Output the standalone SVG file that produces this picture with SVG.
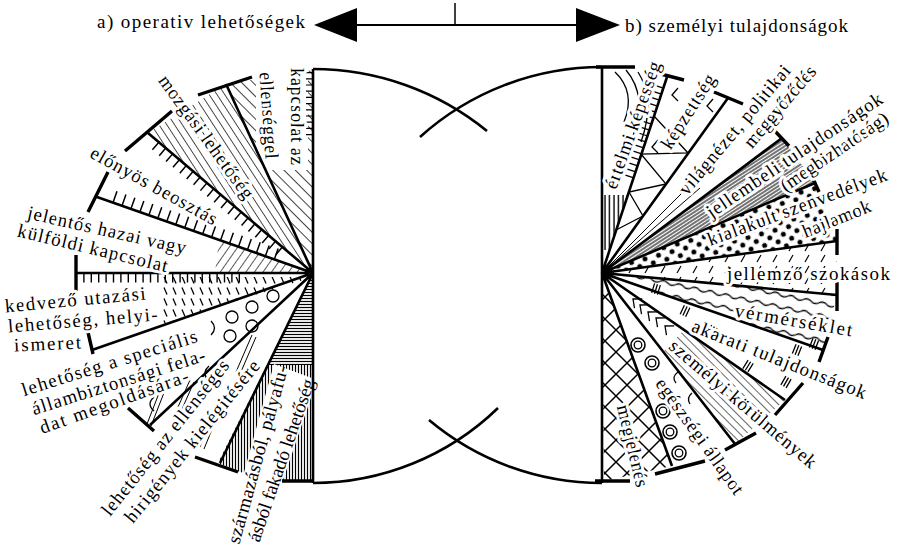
<svg xmlns="http://www.w3.org/2000/svg" xmlns:xlink="http://www.w3.org/1999/xlink" width="897" height="547" viewBox="0 0 897 547">
<style>
.t{font-family:"Liberation Serif","DejaVu Serif",serif;font-size:19px;fill:#000;dominant-baseline:central}
.w{stroke:#fff;stroke-width:6;paint-order:stroke;stroke-linejoin:round}
.hd{font-family:"Liberation Serif","DejaVu Serif",serif;font-size:19px;fill:#000}
.ln{stroke:#000;stroke-width:2.6;fill:none}
.bar{stroke:#000;stroke-width:3.4;fill:none}
.th{stroke:#000;stroke-width:1.3;fill:none}
.tk{fill:none;stroke:#000}
</style>
<defs>
<pattern id="pL1" width="8" height="8" patternUnits="userSpaceOnUse" patternTransform="rotate(-45)"><line x1="0" y1="0" x2="0" y2="8" stroke="#000" stroke-width="1.5"/></pattern>
<pattern id="pL2" width="6.5" height="8" patternUnits="userSpaceOnUse" patternTransform="rotate(-33)"><line x1="0" y1="0" x2="0" y2="8" stroke="#000" stroke-width="1.4"/></pattern>
<pattern id="pL4" width="7" height="8" patternUnits="userSpaceOnUse" patternTransform="rotate(35)"><line x1="0" y1="0" x2="0" y2="8" stroke="#000" stroke-width="1.3"/></pattern>
<pattern id="pDash" width="9" height="11" patternUnits="userSpaceOnUse"><line x1="2" y1="1.5" x2="5" y2="8.5" stroke="#000" stroke-width="1.3"/></pattern>
<pattern id="pH" width="6" height="3" patternUnits="userSpaceOnUse"><line x1="0" y1="1.5" x2="6" y2="1.5" stroke="#000" stroke-width="1.2"/></pattern>
<pattern id="pV" width="3" height="6" patternUnits="userSpaceOnUse"><line x1="1.5" y1="0" x2="1.5" y2="6" stroke="#000" stroke-width="1.2"/></pattern>
<pattern id="pV5" width="4.5" height="6" patternUnits="userSpaceOnUse"><line x1="2" y1="0" x2="2" y2="6" stroke="#000" stroke-width="1.4"/></pattern>
<pattern id="pR4" width="3" height="8" patternUnits="userSpaceOnUse" patternTransform="rotate(57)"><line x1="1" y1="0" x2="1" y2="8" stroke="#000" stroke-width="1.1"/></pattern>
<pattern id="pDots" width="14" height="12" patternUnits="userSpaceOnUse" patternTransform="rotate(-15)"><circle cx="3" cy="3" r="2.5" fill="#000"/><circle cx="10" cy="9" r="2.5" fill="#000"/></pattern>
<pattern id="pDashR" width="16" height="11" patternUnits="userSpaceOnUse"><line x1="5" y1="9" x2="9" y2="2" stroke="#000" stroke-width="1.2"/></pattern>
<pattern id="pWave" width="16" height="12" patternUnits="userSpaceOnUse" patternTransform="rotate(12)"><path d="M0,6 Q4,3 8,6 T16,6" stroke="#000" stroke-width="1.3" fill="none"/></pattern>
<pattern id="pR9" width="6" height="8" patternUnits="userSpaceOnUse" patternTransform="rotate(-45)"><line x1="0" y1="0" x2="0" y2="8" stroke="#000" stroke-width="1.2"/></pattern>
<pattern id="pLat" width="22" height="22" patternUnits="userSpaceOnUse"><path d="M0,0 L22,22 M22,0 L0,22" stroke="#000" stroke-width="1.5" fill="none"/></pattern>
<g id="tk3"><path d="M-3,-5 V5 M0,-5 V5 M3,-5 V5" stroke="#000" stroke-width="1.3" fill="none"/></g>
<polyline id="chev" points="7,-6 0,0 7,6" stroke="#000" stroke-width="1.3" fill="none"/>
<g id="dc"><circle r="7" fill="none" stroke="#000" stroke-width="1.6"/><circle r="3.8" fill="none" stroke="#000" stroke-width="1.3"/></g>
</defs>
<rect width="897" height="547" fill="#fff"/>

<g id="header">
<text class="hd" x="97" y="28" textLength="208" lengthAdjust="spacing">a) operativ lehetőségek</text>
<text class="hd" x="625" y="32" textLength="223" lengthAdjust="spacing">b) személyi tulajdonságok</text>
<line x1="350" y1="25" x2="580" y2="25" stroke="#000" stroke-width="2"/>
<line x1="455" y1="3" x2="455" y2="25" stroke="#000" stroke-width="1.5"/>
<polygon points="314,25 357,8 357,42" fill="#000"/>
<polygon points="620,25 576,8 576,42" fill="#000"/>
</g>

<g id="left-fills">
<polygon points="313,273 313,70 226,84" fill="url(#pL1)"/>
<rect x="256" y="60" width="52" height="110" fill="#fff"/>
<line x1="309" y1="72" x2="309" y2="136" class="tk" stroke-width="6" stroke-dasharray="1.2 5"/>
<polygon points="313,273 226,84 148,133" fill="url(#pL2)"/>
<line x1="280" y1="251" x2="154" y2="144" class="tk" stroke-width="11" stroke-dasharray="1.5 7.5"/>
<line x1="277" y1="254" x2="108" y2="194" class="tk" stroke-width="11" stroke-dasharray="1.5 8"/>
<polygon points="313,273 219,240 215,273" fill="url(#pL4)"/>
<line x1="240" y1="278" x2="82" y2="278" class="tk" stroke-width="9" stroke-dasharray="1.4 6"/>
<polygon points="313,277 160,277 163,324" fill="url(#pDash)"/>
<circle cx="273" cy="296" r="6" class="th"/>
<circle cx="252" cy="307" r="6" class="th"/>
<circle cx="232" cy="317" r="6" class="th"/>
<circle cx="252" cy="326" r="6" class="th"/>
<circle cx="230" cy="336" r="6" class="th"/>
<path d="M211,321 Q218,328 211,335 M154,397 Q146,404 154,411 M209,366 Q202,372 207,379" class="th"/>
<path d="M163,383 L147,424 M167,385 L151,426 M213,415 L200,447 M217,417 L204,449 M252,335 L236,372 M256,337 L240,374 M190,380 L178,407 M194,382 L182,409" stroke="#000" stroke-width="1" fill="none"/>
<polygon points="313,273 267,365 313,365" fill="url(#pH)"/>
<polygon points="267,365 218,463 240,472 282,480 313,480 313,365" fill="url(#pV)"/>
<polygon points="225,541 274,364 317,380 260,548" fill="#fff"/>
</g>

<g id="right-fills">
<path d="M615,72 Q636,92 624,122 M626,70 Q648,96 633,136 M638,72 Q656,100 641,142" class="th"/>
<polygon points="604,195 628,195 610,250 604,250" fill="url(#pV5)"/>
<line x1="629" y1="177" x2="659" y2="86" class="tk" stroke-width="8" stroke-dasharray="1.3 5"/>
<polyline points="616,230 643,216 629,192 666,184 641,154 688,153 654,116" class="th"/>
<path d="M678,88 L672,95 L678,101 M658,140 L652,147 L658,153 M713,99 L707,106 L713,112" class="th"/>
<path d="M602,273 L694,181 M602,273 L700,188" stroke="#000" stroke-width="1" fill="none"/>
<polygon points="602,273 782,138 815,183" fill="url(#pR4)"/>
<polygon points="602,273 815,183 837,241" fill="url(#pDots)"/>
<polygon points="602,273 837,241 837,295" fill="url(#pDashR)"/>
<polygon points="602,273 837,295 823,350" fill="url(#pWave)"/>
<use xlink:href="#tk3" href="#tk3" transform="translate(656,289) rotate(17)"/>
<use xlink:href="#tk3" href="#tk3" transform="translate(685,311) rotate(25)"/>
<use xlink:href="#tk3" href="#tk3" transform="translate(712,331) rotate(28)"/>
<use xlink:href="#tk3" href="#tk3" transform="translate(748,366) rotate(32)"/>
<use xlink:href="#tk3" href="#tk3" transform="translate(786,382) rotate(30)"/>
<use xlink:href="#tk3" href="#tk3" transform="translate(797,350) rotate(22)"/>
<use xlink:href="#tk3" href="#tk3" transform="translate(814,344) rotate(21)"/>
<polygon points="684,330 785,400 735,444 663,352" fill="url(#pR9)"/>
<use xlink:href="#chev" href="#chev" transform="translate(633,299) rotate(40)"/>
<use xlink:href="#chev" href="#chev" transform="translate(640,305) rotate(40)"/>
<use xlink:href="#chev" href="#chev" transform="translate(648,312) rotate(40)"/>
<use xlink:href="#chev" href="#chev" transform="translate(656,318) rotate(40)"/>
<use xlink:href="#chev" href="#chev" transform="translate(665,326) rotate(40)"/>
<use xlink:href="#dc" href="#dc" transform="translate(638,345)"/>
<use xlink:href="#dc" href="#dc" transform="translate(652,363)"/>
<use xlink:href="#dc" href="#dc" transform="translate(663,411)"/>
<use xlink:href="#dc" href="#dc" transform="translate(670,432)"/>
<use xlink:href="#dc" href="#dc" transform="translate(679,453)"/>
<path d="M678,372 Q671,377 676,383 M692,393 Q686,398 690,404" class="th"/>
<polygon points="602,273 672,466 604,481" fill="url(#pLat)"/>
</g>

<g id="connectors">
<path class="ln" d="M313,69 V483 M602,67 V483" stroke-width="3.2"/>
<path class="ln" d="M313,69 A275,275 0 0 1 487,131 M602,67 A272,272 0 0 0 420,137 M313,483 A266,266 0 0 0 498,408 M602,483 A269,269 0 0 1 429,420"/>
<path class="ln" d="M313,273 L226,84 M313,273 L148,133 M313,273 L97,197 M313,273 L76,273 M313,273 L92,350 M313,273 L150,425 M313,273 L220,463"/>
<path class="ln" d="M602,273 L667,77 M602,273 L728,98 M602,273 L782,138 M602,273 L815,183 M602,273 L837,241 M602,273 L837,295 M602,273 L823,350 M602,273 L785,400 M602,273 L735,444 M602,273 L672,466"/>
<path class="bar" d="M198,95 L252,77 M125,151 L172,111 M88,212 L108,172 M76,255 V291 M87,328 L93,354 M128,408 L154,431 M195,457 L238,472 M282,481 H314"/>
<path class="bar" d="M596,67 H635 M657,73 L684,80 M714,92 L743,104 M773,129 L789,146 M811,174 L819,192 M837,229 V255 M837,282 V311 M828,337 L819,362 M775,415 L803,383 M725,450 L756,433 M655,474 L705,461 M595,481 H630"/>
</g>

<g id="left-labels">
<g id="n-kapcsolat-ellenseg"><text class="t w" transform="translate(297,68) rotate(90)" textLength="97" lengthAdjust="spacing">kapcsolat az</text>
<text class="t w" transform="translate(266,72) rotate(86)" textLength="87" lengthAdjust="spacing">ellenséggel</text></g>
<g id="n-mozgasi"><text class="t w" transform="translate(163,77) rotate(54)" textLength="148" lengthAdjust="spacing">mozgási lehetőség</text></g>
<g id="n-elonyos"><text class="t w" transform="translate(92,151) rotate(29)" textLength="142" lengthAdjust="spacing">előnyös beosztás</text></g>
<g id="n-jelentos"><text class="t w" transform="translate(28,212) rotate(12.8)" textLength="162" lengthAdjust="spacing">jelentős hazai vagy</text>
<text class="t w" transform="translate(18,230) rotate(13.5)" textLength="154" lengthAdjust="spacing">külföldi kapcsolat</text></g>
<g id="n-kedvezo"><text class="t w" transform="translate(5,306) rotate(-5.3)" textLength="141" lengthAdjust="spacing">kedvező utazási</text>
<text class="t w" transform="translate(8,326) rotate(-4.6)" textLength="150" lengthAdjust="spacing">lehetőség, helyi-</text>
<text class="t w" transform="translate(14,345) rotate(-2.5)" textLength="67" lengthAdjust="spacing">ismeret</text></g>
<g id="n-specialis"><text class="t w" transform="translate(22,390) rotate(-17.4)" textLength="183" lengthAdjust="spacing">lehetőség a speciális</text>
<text class="t w" transform="translate(32,409) rotate(-17.6)" textLength="181" lengthAdjust="spacing">állambiztonsági fela-</text>
<text class="t w" transform="translate(40,428) rotate(-19.7)" textLength="157" lengthAdjust="spacing">dat megoldására-</text></g>
<g id="n-ellenseges"><text class="t w" transform="translate(105,513) rotate(-51.5)" textLength="193" lengthAdjust="spacing">lehetőség az ellenséges</text>
<text class="t w" transform="translate(128,520) rotate(-51)" textLength="203" lengthAdjust="spacing">hirigények kielégitésére</text></g>
<g id="n-szarmazas"><text class="t" transform="translate(233,543) rotate(-74.5)" textLength="184" lengthAdjust="spacing">származásból, pályafu-</text>
<text class="t" transform="translate(253,541) rotate(-71)" textLength="171" lengthAdjust="spacing">ásból fakadó lehetőség</text></g>
</g>

<g id="right-labels">
<g id="n-ertelmi"><text class="t w" transform="translate(610,188) rotate(-70.3)" textLength="134" lengthAdjust="spacing">értelmi képesség</text></g>
<g id="n-kepzettseg"><text class="t w" transform="translate(665,147) rotate(-57.4)" textLength="85" lengthAdjust="spacing">képzettség</text></g>
<g id="n-vilagnezet"><text class="t w" transform="translate(682,192) rotate(-50)" textLength="163" lengthAdjust="spacing">világnézet, politikai</text>
<text class="t w" transform="translate(747,145) rotate(-49.8)" textLength="101" lengthAdjust="spacing">meggyőződés</text></g>
<g id="n-jellembeli"><text class="t w" transform="translate(708,213) rotate(-34)" textLength="208" lengthAdjust="spacing">jellembeli tulajdonságok</text>
<text class="t w" transform="translate(782,187) rotate(-34.2)" textLength="126" lengthAdjust="spacing">(megbizhatóság)</text></g>
<g id="n-szenvedelyek"><text class="t w" transform="translate(708,240) rotate(-20.4)" textLength="190" lengthAdjust="spacing">kialakult szenvedélyek</text>
<text class="t w" transform="translate(803,232) rotate(-22)" textLength="72" lengthAdjust="spacing">hajlamok</text></g>
<g id="n-szokasok"><text class="t w" transform="translate(727,273)" textLength="163" lengthAdjust="spacing">jellemző szokások</text></g>
<g id="n-vermerseklet"><text class="t w" transform="translate(735,310) rotate(9.7)" textLength="119" lengthAdjust="spacing">vérmérséklet</text></g>
<g id="n-akarati"><text class="t w" transform="translate(693,325) rotate(21.5)" textLength="186" lengthAdjust="spacing">akarati tulajdonságok</text></g>
<g id="n-korulmenyek"><text class="t w" transform="translate(672,343) rotate(40.4)" textLength="187" lengthAdjust="spacing">személyi körülmények</text></g>
<g id="n-egeszseg"><text class="t w" transform="translate(660,380) rotate(54.5)" textLength="138" lengthAdjust="spacing">egészségi állapot</text></g>
<g id="n-megjelenes"><text class="t w" transform="translate(623,405) rotate(76.3)" textLength="84" lengthAdjust="spacing">megjelenés</text></g>
</g>
</svg>
